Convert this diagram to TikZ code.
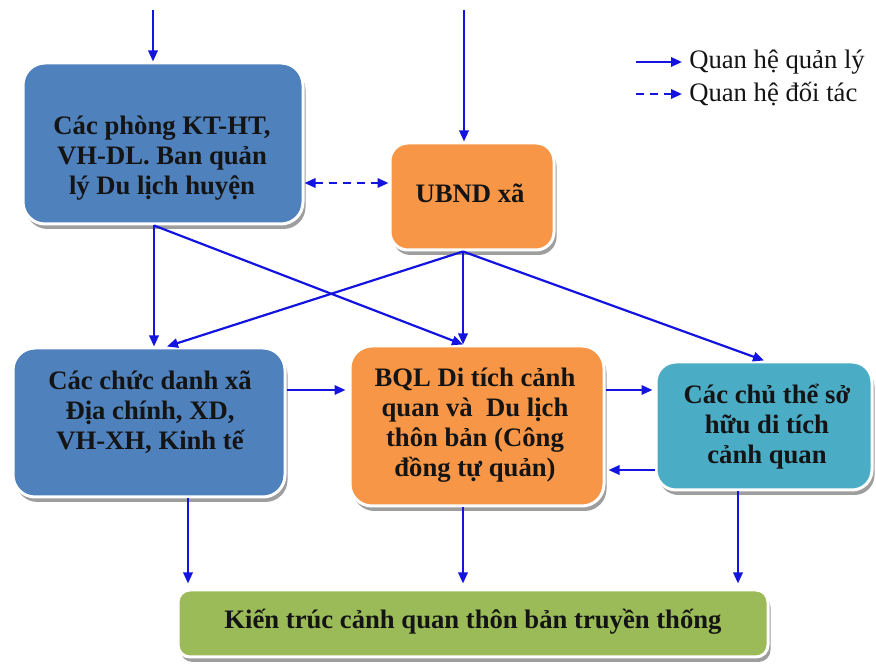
\documentclass[tikz,border=0pt]{standalone}
\usepackage{fontspec}
\setmainfont{Liberation Serif}
\usetikzlibrary{arrows.meta,calc,shadows}
\definecolor{boxblue}{HTML}{4F81BD}
\definecolor{boxorange}{HTML}{F79646}
\definecolor{boxteal}{HTML}{4BACC6}
\definecolor{boxgreen}{HTML}{9BBB59}
\definecolor{linkblue}{RGB}{20,20,225}
\definecolor{inkdark}{RGB}{20,20,20}
\begin{document}
% coordinates are in pixel units (0.75pt), y grows downwards
\begin{tikzpicture}[x=0.75pt,y=-0.75pt,
  box/.style={draw=white, line width=2.25pt, rounded corners=16.5pt,
    drop shadow={shadow xshift=1.9pt, shadow yshift=-3.75pt, fill=black, opacity=0.38}},
  lbl/.style={font=\fontsize{20}{22.5}\selectfont\bfseries, align=center, text=inkdark, inner sep=0pt},
  legtxt/.style={font=\fontsize{20}{24}\selectfont, text=inkdark, inner sep=0pt, anchor=west},
  arr/.style={draw=linkblue, line width=1.65pt, -{Triangle[length=8.25pt,width=7pt]}},
  dasharr/.style={draw=linkblue, line width=1.65pt, dash pattern=on 6pt off 4.5pt},
]
\useasboundingbox (0,0) rectangle (876,666);

% boxes
\node[box, fill=boxblue, minimum width=210pt, minimum height=120.75pt] (A) at (163,143.5) {};
\node[box, fill=boxorange, minimum width=123pt, minimum height=80.25pt, rounded corners=13.5pt] (U) at (472,196.5) {};
\node[box, fill=boxblue, minimum width=204pt, minimum height=111.75pt] (C) at (149,422.5) {};
\node[box, fill=boxorange, minimum width=190.5pt, minimum height=120pt] (B) at (477,426) {};
\node[box, fill=boxteal, minimum width=162pt, minimum height=96pt, rounded corners=15pt] (S) at (764,426) {};
\node[box, fill=boxgreen, minimum width=442.5pt, minimum height=50.25pt, rounded corners=9pt] (G) at (473,623.5) {};

% box texts
\node[lbl] (At) at (162,158) {Các phòng KT-HT,\\VH-DL. Ban quản\\lý Du lịch huyện};
\node[lbl] (Ut) at (470,193) {UBND xã};
\node[lbl] (Ct) at (150,412) {Các chức danh xã\\Địa chính, XD,\\VH-XH, Kinh tế};
\node[lbl] (Bt) at (475,425) {BQL Di tích cảnh\\quan và\ \ Du lịch\\thôn bản (Công\\đồng tự quản)};
\node[lbl] (St) at (767,427) {Các chủ thể sở\\hữu di tích\\cảnh quan};
\node[lbl] (Gt) at (473,622) {Kiến trúc cảnh quan thôn bản truyền thống};

% helper coordinates
\coordinate (topL) at (153,10);
\coordinate (topU) at (464,10);
\coordinate (dashY) at (0,183);
\coordinate (rowY) at (0,390);
\coordinate (backY) at (0,470);
\coordinate (xC) at (188,0);
\coordinate (xS) at (738,0);
\coordinate (aout) at ($(A.south)+(-9,0)$);
\coordinate (uout) at ($(U.south)+(-9,0)$);
\coordinate (ctop) at ($(C.north)+(18,0)$);

% management links
\draw[arr] (topL) -- (topL |- A.north);
\draw[arr] (topU) -- (topU |- U.north);
\draw[arr] (aout) -- (aout |- C.north);
\draw[arr] (aout) -- (uout |- B.north);
\draw[arr] (uout) -- (uout |- B.north);
\draw[arr] (uout) -- (ctop);
\draw[arr] (uout) -- (S.north);
\draw[arr, shorten >=2.25pt] (C.east |- rowY) -- (B.west |- rowY);
\draw[arr, shorten >=1.5pt] (B.east |- rowY) -- (S.west |- rowY);
\draw[arr, shorten >=2.25pt] (S.west |- backY) -- (B.east |- backY);
\draw[arr, shorten >=3.75pt] (xC |- C.south) -- (xC |- G.north);
\draw[arr, shorten >=3.75pt] (uout |- B.south) -- (uout |- G.north);
\draw[arr, shorten >=3.75pt] (xS |- S.south) -- (xS |- G.north);

% partnership link
\draw[dasharr, {Triangle[length=8.25pt,width=7pt]}-{Triangle[length=8.25pt,width=7pt]}]
  (A.east |- dashY) -- (U.west |- dashY);

% legend
\coordinate (la1) at (636,62);
\coordinate (lb1) at (682,62);
\coordinate (la2) at (636,94);
\coordinate (lb2) at (682,94);
\draw[arr] (la1) -- (lb1);
\draw[dasharr, -{Triangle[length=8.25pt,width=7pt]}] (la2) -- (lb2);
\node[legtxt] (lt1) at (689,62) {Quan hệ quản lý};
\node[legtxt] (lt2) at (689,94) {Quan hệ đối tác};
\end{tikzpicture}
\end{document}
